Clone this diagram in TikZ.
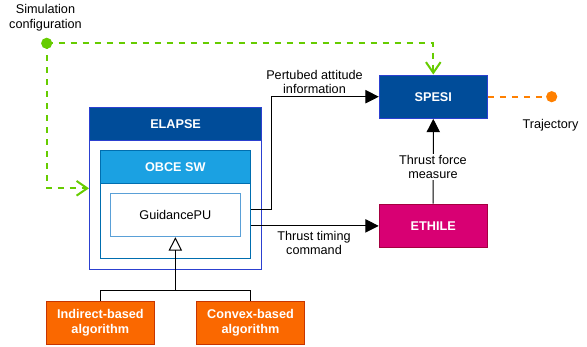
\documentclass[tikz,border=0pt]{standalone}
\usepackage{fontspec}
\setmainfont{Liberation Sans}
\usetikzlibrary{arrows.meta}

\definecolor{hdblue}{RGB}{0,76,153}
\definecolor{hdblueline}{RGB}{44,64,208}
\definecolor{swblue}{RGB}{27,161,226}
\definecolor{swblueline}{RGB}{0,110,175}
\definecolor{pulight}{RGB}{90,160,215}
\definecolor{ethmag}{RGB}{216,0,115}
\definecolor{ethmagline}{RGB}{165,0,64}
\definecolor{algorange}{RGB}{250,104,0}
\definecolor{algorangeline}{RGB}{199,53,0}
\definecolor{cfggreen}{RGB}{102,204,0}
\definecolor{trajorange}{RGB}{255,128,0}

\tikzset{every picture/.style={line width=0.75pt}}
\tikzset{
  lbl/.style={font=\fontsize{9.5}{11.2}\selectfont, align=center, inner sep=1pt},
  blk/.style={draw, font=\bfseries\fontsize{9.5}{11.2}\selectfont, text=white, align=center,
    minimum width=81pt, minimum height=32.5pt, inner sep=0pt},
  cfgline/.style={cfggreen, line width=1.5pt, dash pattern={on 4.5pt off 4.5pt},
    -{Straight Barb[length=8pt,width=11pt]}},
  trajline/.style={trajorange, line width=1.5pt, dash pattern={on 4.5pt off 4.5pt}},
}

\begin{document}
\begin{tikzpicture}[x=0.75pt,y=0.75pt,yscale=-1,xscale=1]
\useasboundingbox (0,0) rectangle (587,347);

%Shape: ELAPSE container
\node[draw=hdblueline, fill=white, minimum width=129.15pt, minimum height=121.5pt, inner sep=0pt] (elapse) at (175.6,188.3) {};
\node[blk, draw=hdblueline, fill=hdblue, minimum width=129.15pt, minimum height=25pt] (elapsehd) at (175.6,124) {ELAPSE};
%Shape: OBCE SW container
\node[draw=swblueline, fill=white, minimum width=113pt, minimum height=80.7pt, inner sep=0pt] (obce) at (175.35,204.5) {};
\node[blk, draw=swblueline, fill=swblue, minimum width=113pt, minimum height=24.45pt] (obcehd) at (175.35,167) {OBCE SW};
%Shape: GuidancePU
\node[lbl, draw=pulight, fill=white, minimum width=97pt, minimum height=32.25pt] (gpu) at (175.35,215.2) {GuidancePU};

%Shape: SPESI / ETHILE
\node[blk, draw=hdblueline, fill=hdblue] (spesi) at (433.3,96.7) {SPESI};
\node[blk, draw=ethmagline, fill=ethmag] (ethile) at (433.2,225.9) {ETHILE};

%Shape: algorithms
\node[blk, draw=algorangeline, fill=algorange, minimum width=80.6pt, minimum height=32.25pt] (indirect) at (100.35,322.5) {Indirect-based\\algorithm};
\node[blk, draw=algorangeline, fill=algorange, minimum width=80.6pt, minimum height=32.25pt] (convex) at (250.5,322.5) {Convex-based\\algorithm};

% end points
\coordinate (cfg) at (46.7,43.3);
\coordinate (traj) at (551.7,96.7);
\coordinate (pert) at (271.7,209);
\coordinate (join) at (175.35,290.3);

%Straight Lines: configuration
\draw[cfgline] (cfg) -| (spesi.north);
\draw[cfgline] (cfg) |- (elapse.west);
\fill[cfggreen] (cfg) circle[radius=4.2pt];

%Straight Lines: trajectory
\draw[trajline] (spesi.east) -- (traj);
\fill[trajorange] (traj) circle[radius=4.2pt];

%Straight Lines: signals
\draw[-{Triangle[width=10pt,length=10pt]}] (pert -| obce.east) -- (pert) |- (spesi.west);
\draw[-{Triangle[width=10pt,length=10pt]}] (obce.east |- ethile.west) -- (ethile.west);
\draw[-{Triangle[width=10pt,length=10pt]}] (ethile.north) -- (spesi.south);

%Straight Lines: generalisation
\draw (indirect.north) |- (join) -| (convex.north);
\draw[-{Triangle[open,width=10pt,length=10pt]}] (join) -- (gpu.south);

% Text Node
\node[lbl] (cfglbl) at (45.5,17.5) {Simulation\\configuration};
% Text Node
\node[lbl] (pertlbl) at (314.5,82) {Pertubed attitude\\information};
% Text Node
\node[lbl, fill=white] (forcelbl) at (433,167) {Thrust force\\measure};
% Text Node
\node[lbl] (cmdlbl) at (314,243) {Thrust timing\\command};
% Text Node
\node[lbl] (trajlbl) at (550.5,125) {Trajectory};

\end{tikzpicture}
\end{document}
